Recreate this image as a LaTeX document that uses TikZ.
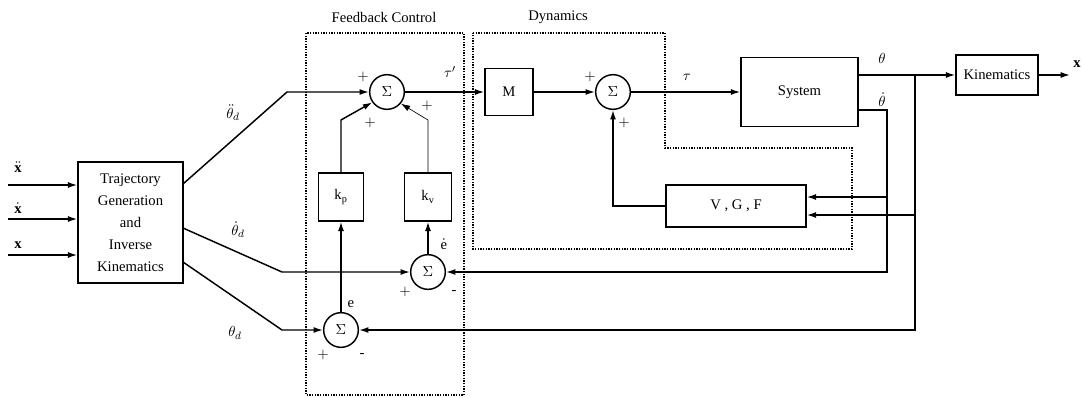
\documentclass[tikz,border=0pt]{standalone}
\usepackage{fontspec}
\setmainfont{Liberation Serif}
\usetikzlibrary{arrows.meta}

\tikzset{
  block/.style={draw, line width=1.1pt, inner sep=0pt},
  sumnode/.style={draw, circle, line width=1.1pt, minimum size=26pt, inner sep=0pt},
  sig/.style={line width=1.1pt},
  arr/.style={sig, -{Latex[length=7pt,width=4.5pt]}},
  region/.style={densely dotted, line width=1pt}
}

\begin{document}
\begin{tikzpicture}[x=0.75pt, y=-0.75pt, font=\fontsize{11}{13}\selectfont]
  \useasboundingbox (0,0) rectangle (1083,397);

  % Regions
  \draw[region] (306,33) rectangle (464,395);
  \draw[region] (473,33) -- (665,33) -- (665,148) -- (852,148) -- (852,249) -- (473,249) -- cycle;
  \node (fbtitle) at (384,17) {Feedback Control};
  \node (dyntitle) at (558,17) {Dynamics};

  % Blocks
  \node[block, minimum width=78.75pt, minimum height=90.75pt, align=center,
        font=\fontsize{11}{16.5}\selectfont] (traj) at (130.5,222.5)
        {Trajectory\\Generation\\and\\Inverse\\Kinematics};
  \node[block, minimum width=33.75pt, minimum height=36pt] (kp) at (341,197) {k$_{\mathrm{p}}$};
  \node[block, minimum width=35.25pt, minimum height=36pt] (kv) at (428,197) {k$_{\mathrm{v}}$};
  \node[block, minimum width=36pt, minimum height=35.25pt] (mass) at (509,92) {M};
  \node[block, minimum width=87.75pt, minimum height=51.75pt] (sys) at (799.5,92) {System};
  \node[block, minimum width=61.5pt, minimum height=30pt] (kin) at (997,75) {Kinematics};
  \node[block, minimum width=105pt, minimum height=31.5pt] (vgf) at (736,206) {V , G , F};

  % Summing junctions
  \node[sumnode] (sum1) at (387,92) {$\Sigma$};
  \node[sumnode] (sum2) at (613,92) {$\Sigma$};
  \node[sumnode] (sum3) at (428,272) {$\Sigma$};
  \node[sumnode] (sum4) at (341,330) {$\Sigma$};

  % Corner points
  \coordinate (in1) at (8,185);
  \coordinate (in2) at (8,219);
  \coordinate (in3) at (8,255);
  \coordinate (ddq) at (183,184);
  \coordinate (ddqb) at (287,92);
  \coordinate (dq) at (183,228);
  \coordinate (dqb) at (282,272);
  \coordinate (q) at (183,262);
  \coordinate (qb) at (282,330);
  \coordinate (kpt) at (341,120);
  \coordinate (kvt) at (428,120);
  \coordinate (qout) at (858,75);
  \coordinate (dqout) at (858,110);
  \coordinate (xout) at (1070,75);
  \coordinate (qj) at (915,75);
  \coordinate (qf) at (915,215);
  \coordinate (dqj) at (887,110);
  \coordinate (dqf) at (887,197);
  \coordinate (vgfout) at (613,206);

  % Signals
  \draw[arr] (in1) -- (in1 -| traj.west);
  \draw[arr] (in2) -- (in2 -| traj.west);
  \draw[arr] (in3) -- (in3 -| traj.west);
  \draw[arr] (ddq) -- (ddqb) -- (sum1);
  \draw[arr] (dq) -- (dqb) -- (sum3);
  \draw[arr] (q) -- (qb) -- (sum4);
  \draw[arr] (sum4) -- (kp);
  \draw[arr] (sum3) -- (kv);
  \draw[arr] (kp) -- (kpt) -- (sum1.215);
  \draw[arr, line width=0.5pt] (kv) -- (kvt) -- (sum1.320);
  \draw[arr] (sum1) -- (mass);
  \draw[arr] (mass) -- (sum2);
  \draw[arr] (sum2) -- (sys);
  \draw[arr] (qout) -- (kin);
  \draw[arr] (kin) -- (xout);
  \draw[arr] (qj) -- (qj |- sum4) -- (sum4);
  \draw[arr] (qf) -- (qf -| vgf.east);
  \draw[arr] (dqout) -- (dqj) -- (dqj |- sum3) -- (sum3);
  \draw[arr] (dqf) -- (dqf -| vgf.east);
  \draw[arr] (vgf) -- (vgfout) -- (sum2);

  % Labels
  \node (lx2) at (18,167) {$\ddot{\mathbf{x}}$};
  \node (lx1) at (18,208) {$\dot{\mathbf{x}}$};
  \node (lx0) at (18,245) {$\mathbf{x}$};
  \node (lddq) at (233,113) {$\ddot{\theta}_d$};
  \node (ldq) at (238,230) {$\dot{\theta}_d$};
  \node (lq) at (235,333) {$\theta_d$};
  \node (ltaup) at (450,72) {$\tau'$};
  \node (ltau) at (687,77) {$\tau$};
  \node (lth) at (882,58) {$\theta$};
  \node (ldth) at (882,100) {$\dot{\theta}$};
  \node (lxo) at (1077,64) {$\mathbf{x}$};
  \node (le) at (351,304) {e};
  \node (lde) at (444,244) {$\dot{\mathrm{e}}$};
  \node at (363,77) {$+$};
  \node at (370,123) {$+$};
  \node at (427,106) {$+$};
  \node at (590,77) {$+$};
  \node at (624,123) {$+$};
  \node at (405,292) {$+$};
  \node at (454,292) {-};
  \node at (323,355) {$+$};
  \node at (362,355) {-};
\end{tikzpicture}
\end{document}
